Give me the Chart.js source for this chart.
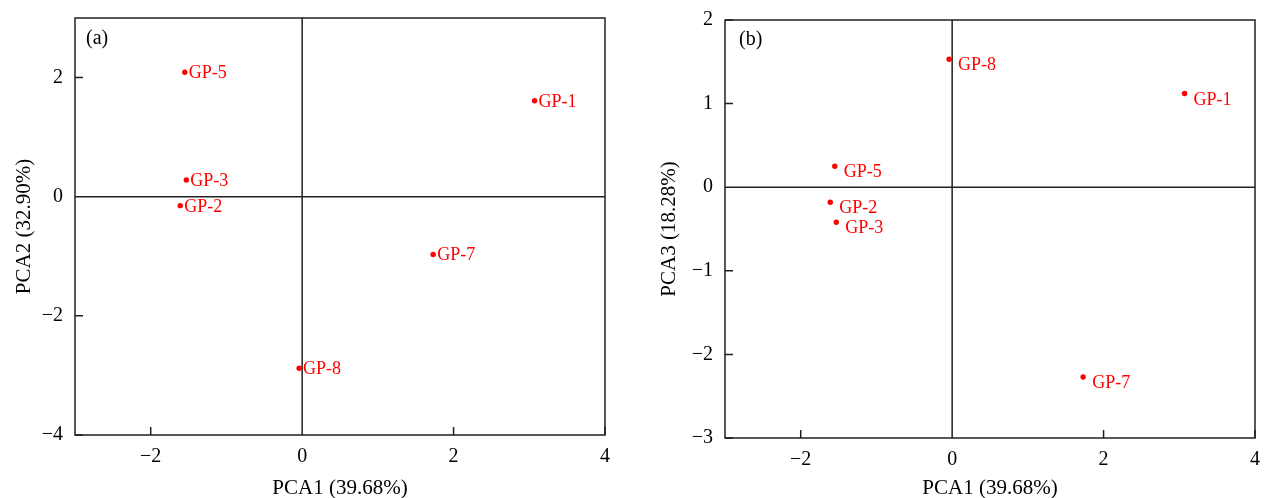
<!DOCTYPE html>
<html>
<head>
<meta charset="utf-8">
<title>PCA score plots</title>
<script src="https://cdn.jsdelivr.net/npm/chart.js@4.4.1/dist/chart.umd.min.js"></script>
<style>
  html, body { margin: 0; padding: 0; background: #fff; }
  #wrap { position: relative; width: 1266px; height: 498px; }
  #wrap canvas { position: absolute; top: 0; }
</style>
</head>
<body>
<div id="wrap">
  <canvas id="pcaA" width="633" height="498" style="left:0"></canvas>
  <canvas id="pcaB" width="633" height="498" style="left:633px"></canvas>
</div>
<script>
// sample scores on the first three principal components
const samples = ['GP-1', 'GP-2', 'GP-3', 'GP-5', 'GP-7', 'GP-8'];
const pca1 = [3.07, -1.61, -1.53, -1.55, 1.73, -0.04];
const pca2 = [1.61, -0.15, 0.28, 2.09, -0.97, -2.88];
const pca3 = [1.12, -0.18, -0.42, 0.25, -2.27, 1.53];

const xTicks = [-2, 0, 2, 4];
const yTicksA = [-4, -2, 0, 2];
const yTicksB = [-3, -2, -1, 0, 1, 2];

const ink = '#231f20';
const red = '#ff0000';
const serif = "'Liberation Serif', 'Times New Roman', serif";

const fmt = v => (v < 0 ? '\u2212' + Math.abs(v) : String(v));

// frame, zero cross lines and inward tick marks
const pcaFrame = {
  id: 'pcaFrame',
  beforeDatasetsDraw(chart) {
    const { ctx, chartArea: a, scales: { x, y } } = chart;
    ctx.save();
    ctx.strokeStyle = ink;
    ctx.lineWidth = 1.5;
    ctx.strokeRect(a.left, a.top, a.right - a.left, a.bottom - a.top);
    const x0 = x.getPixelForValue(0);
    const y0 = y.getPixelForValue(0);
    ctx.beginPath();
    ctx.moveTo(x0, a.top); ctx.lineTo(x0, a.bottom);
    ctx.moveTo(a.left, y0); ctx.lineTo(a.right, y0);
    x.ticks.forEach(t => {
      const p = x.getPixelForValue(t.value);
      ctx.moveTo(p, a.bottom); ctx.lineTo(p, a.bottom - 8);
    });
    y.ticks.forEach(t => {
      const p = y.getPixelForValue(t.value);
      ctx.moveTo(a.left, p); ctx.lineTo(a.left + 8, p);
    });
    ctx.stroke();
    ctx.restore();
  },
  afterDatasetsDraw(chart, args, opts) {
    const { ctx, chartArea: a } = chart;
    const pts = chart.getDatasetMeta(0).data;
    ctx.save();
    ctx.fillStyle = red;
    ctx.font = '18px ' + serif;
    ctx.textBaseline = 'alphabetic';
    pts.forEach((pt, i) => {
      ctx.fillText(samples[i], pt.x + opts.dx, pt.y + opts.dy);
    });
    ctx.fillStyle = '#000';
    ctx.font = '20px ' + serif;
    ctx.fillText(opts.tag, a.left + opts.tagX, a.top + opts.tagY);
    ctx.restore();
  }
};

function pcaChart(id, yVals, yTicks, yMin, yMax, yTitle, box) {
  return new Chart(document.getElementById(id), {
    type: 'scatter',
    data: {
      datasets: [{
        data: pca1.map((v, i) => ({ x: v, y: yVals[i] })),
        backgroundColor: red,
        borderWidth: 0,
        pointRadius: 2.7
      }]
    },
    options: {
      responsive: false,
      animation: false,
      devicePixelRatio: 1,
      layout: { padding: { top: box.top, right: box.right, left: 0, bottom: 0 } },
      plugins: {
        legend: { display: false },
        tooltip: { enabled: false },
        pcaFrame: box.labels
      },
      scales: {
        x: {
          type: 'linear', min: -3, max: 4,
          afterBuildTicks: s => { s.ticks = xTicks.map(v => ({ value: v })); },
          afterFit: s => { s.height = box.xHeight; s.paddingLeft = 0; s.paddingRight = 0; },
          grid: { display: false, drawTicks: false },
          border: { display: false },
          ticks: { autoSkip: false, maxRotation: 0, padding: 10, color: '#000', font: { family: serif, size: 20 }, callback: fmt },
          title: { display: true, text: 'PCA1 (39.68%)', color: '#000', font: { family: serif, size: 21 }, padding: { top: 0, bottom: -3 } }
        },
        y: {
          type: 'linear', min: yMin, max: yMax,
          afterBuildTicks: s => { s.ticks = yTicks.map(v => ({ value: v })); },
          afterFit: s => { s.width = box.yWidth; s.paddingTop = 0; s.paddingBottom = 0; },
          grid: { display: false, drawTicks: false },
          border: { display: false },
          ticks: { autoSkip: false, padding: 12, color: '#000', font: { family: serif, size: 20 }, callback: fmt },
          title: { display: true, text: yTitle, color: '#000', font: { family: serif, size: 21 }, padding: { top: box.yTitlePad, bottom: 0 } }
        }
      }
    },
    plugins: [pcaFrame]
  });
}

pcaChart('pcaA', pca2, yTicksA, -4, 3, 'PCA2 (32.90%)', {
  top: 18, right: 28, xHeight: 63, yWidth: 75, yTitlePad: 12,
  labels: { dx: 4, dy: 6, tag: '(a)', tagX: 11, tagY: 26 }
});

pcaChart('pcaB', pca3, yTicksB, -3, 2, 'PCA3 (18.28%)', {
  top: 20, right: 11, xHeight: 60, yWidth: 92, yTitlePad: 24,
  labels: { dx: 9, dy: 11, tag: '(b)', tagX: 14, tagY: 25 }
});
</script>
</body>
</html>
